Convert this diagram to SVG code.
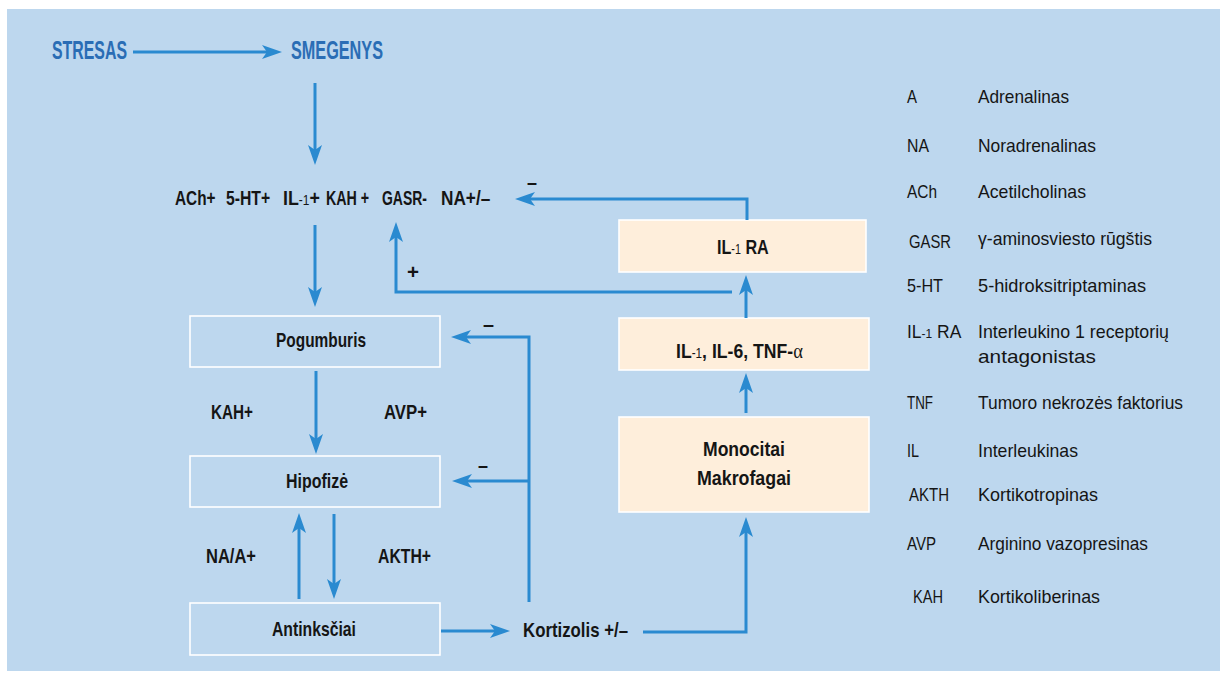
<svg xmlns="http://www.w3.org/2000/svg" width="1220" height="673" viewBox="0 0 1220 673">
<style>
.bg{fill:#BDD7EE}
.bbox{fill:#BDD7EE;stroke:#FFFFFF;stroke-width:1.6}
.obox{fill:#FEEEDB;stroke:#FFFFFF;stroke-width:1.6}
.t{font-family:"Liberation Sans",Arial,sans-serif;font-weight:bold;font-size:21px;fill:#151515}
.title{font-family:"Liberation Sans",Arial,sans-serif;font-weight:bold;font-size:26px;fill:#2A6DB5}
.lg{font-family:"Liberation Sans",Arial,sans-serif;font-size:19px;fill:#151515}
.sm{font-size:14px;font-weight:normal}
.al{font-family:"Liberation Serif",serif;font-weight:normal;font-size:22px}
.conn path{fill:none;stroke:#2A8AD0;stroke-width:3;marker-end:url(#ah)}
</style>
<defs>
<marker id="ah" viewBox="0 0 20 14" refX="10" refY="7" markerUnits="userSpaceOnUse" markerWidth="20" markerHeight="14" orient="auto">
<path d="M0,0 L20,7 L0,14 L5,7 z" fill="#2A8AD0"/>
</marker>
</defs>
<rect class="bg" x="7" y="9" width="1213" height="662"/>

<g id="stresas"><text class="title" x="52" y="59" textLength="75" lengthAdjust="spacingAndGlyphs">STRESAS</text></g>
<g id="smegenys"><text class="title" x="291" y="59" textLength="92" lengthAdjust="spacingAndGlyphs">SMEGENYS</text></g>

<g id="mediatoriai">
<text class="t" transform="translate(175,205) scale(0.73,1)">ACh+</text>
<text class="t" transform="translate(226,205) scale(0.75,1)">5-HT+</text>
<text class="t" transform="translate(283,205) scale(0.85,1)">IL<tspan class="sm">-1</tspan>+</text>
<text class="t" transform="translate(326,205) scale(0.68,1)">KAH +</text>
<text class="t" transform="translate(382,205) scale(0.665,1)">GASR-</text>
<text class="t" transform="translate(441,205) scale(0.82,1)">NA+/–</text>
</g>

<g id="pogumburis">
<rect class="bbox" x="190" y="316" width="250" height="51"/>
<text class="t" x="276" y="347" textLength="90" lengthAdjust="spacingAndGlyphs">Pogumburis</text>
</g>
<g id="hipofize">
<rect class="bbox" x="190" y="456" width="250" height="51"/>
<text class="t" x="286" y="488" textLength="62" lengthAdjust="spacingAndGlyphs">Hipofizė</text>
</g>
<g id="antinksciai">
<rect class="bbox" x="190" y="603" width="250" height="52"/>
<text class="t" x="272" y="636" textLength="84" lengthAdjust="spacingAndGlyphs">Antinksčiai</text>
</g>
<g id="kortizolis">
<text class="t" x="523" y="637" textLength="105" lengthAdjust="spacingAndGlyphs">Kortizolis +/–</text>
</g>

<g id="il1ra">
<rect class="obox" x="619" y="220" width="247" height="52"/>
<text class="t" transform="translate(717,254) scale(0.77,1)">IL<tspan class="sm">-1</tspan> RA</text>
</g>
<g id="citokinai">
<rect class="obox" x="619" y="318" width="250" height="52"/>
<text class="t" transform="translate(676,358) scale(0.84,1)">IL<tspan class="sm">-1</tspan>, IL-6, TNF-<tspan class="al">α</tspan></text>
</g>
<g id="monocitai">
<rect class="obox" x="619" y="417" width="250" height="95"/>
<text class="t" x="703" y="456" textLength="82" lengthAdjust="spacingAndGlyphs">Monocitai</text>
<text class="t" x="697" y="485" textLength="94" lengthAdjust="spacingAndGlyphs">Makrofagai</text>
</g>

<g id="zymes">
<text class="t" x="211" y="419" textLength="42" lengthAdjust="spacingAndGlyphs">KAH+</text>
<text class="t" x="384" y="419" textLength="43" lengthAdjust="spacingAndGlyphs">AVP+</text>
<text class="t" x="206" y="563" textLength="50" lengthAdjust="spacingAndGlyphs">NA/A+</text>
<text class="t" x="378" y="563" textLength="53" lengthAdjust="spacingAndGlyphs">AKTH+</text>
<text class="t" x="527" y="189" textLength="10" lengthAdjust="spacingAndGlyphs">–</text>
<text class="t" x="407" y="279" textLength="12" lengthAdjust="spacingAndGlyphs">+</text>
<text class="t" x="483" y="331" textLength="11" lengthAdjust="spacingAndGlyphs">–</text>
<text class="t" x="478" y="472" textLength="10" lengthAdjust="spacingAndGlyphs">–</text>
</g>

<g class="conn" id="connectors">
<path d="M133,52 H272"/>
<path d="M315,83 V155"/>
<path d="M315,225 V297"/>
<path d="M316,371 V444"/>
<path d="M299,599 V523"/>
<path d="M334,514 V589"/>
<path d="M441,631 H500"/>
<path d="M643,632 H746 V527"/>
<path d="M746,413 V383"/>
<path d="M746,318 V285"/>
<path d="M747,220 V199 H525"/>
<path d="M732,292 H396 V232"/>
<path d="M529,602 V337 H461"/>
<path d="M529,481 H462"/>
</g>

<g id="legenda">
<text class="lg" x="907" y="103" textLength="10" lengthAdjust="spacingAndGlyphs">A</text>
<text class="lg" x="978" y="103" textLength="91" lengthAdjust="spacingAndGlyphs">Adrenalinas</text>
<text class="lg" x="907" y="152" textLength="22" lengthAdjust="spacingAndGlyphs">NA</text>
<text class="lg" x="978" y="152" textLength="118" lengthAdjust="spacingAndGlyphs">Noradrenalinas</text>
<text class="lg" x="907" y="198" textLength="30" lengthAdjust="spacingAndGlyphs">ACh</text>
<text class="lg" x="978" y="198" textLength="108" lengthAdjust="spacingAndGlyphs">Acetilcholinas</text>
<text class="lg" x="909" y="248" font-size="17" textLength="42" lengthAdjust="spacingAndGlyphs">GASR</text>
<text class="lg" x="978" y="245" textLength="174" lengthAdjust="spacingAndGlyphs">γ-aminosviesto rūgštis</text>
<text class="lg" x="907" y="292" textLength="36" lengthAdjust="spacingAndGlyphs">5-HT</text>
<text class="lg" x="978" y="292" textLength="168" lengthAdjust="spacingAndGlyphs">5-hidroksitriptaminas</text>
<text class="lg" transform="translate(907,338) scale(0.92,1)">IL<tspan font-size="13">-1</tspan> RA</text>
<text class="lg" x="978" y="338" textLength="191" lengthAdjust="spacingAndGlyphs">Interleukino 1 receptorių</text>
<text class="lg" x="978" y="363" textLength="118" lengthAdjust="spacingAndGlyphs">antagonistas</text>
<text class="lg" x="907" y="409" textLength="26" lengthAdjust="spacingAndGlyphs">TNF</text>
<text class="lg" x="978" y="409" textLength="205" lengthAdjust="spacingAndGlyphs">Tumoro nekrozės faktorius</text>
<text class="lg" x="907" y="457" textLength="12" lengthAdjust="spacingAndGlyphs">IL</text>
<text class="lg" x="978" y="457" textLength="100" lengthAdjust="spacingAndGlyphs">Interleukinas</text>
<text class="lg" x="909" y="501" font-size="17" textLength="40" lengthAdjust="spacingAndGlyphs">AKTH</text>
<text class="lg" x="978" y="501" textLength="120" lengthAdjust="spacingAndGlyphs">Kortikotropinas</text>
<text class="lg" x="907" y="550" textLength="29" lengthAdjust="spacingAndGlyphs">AVP</text>
<text class="lg" x="978" y="550" textLength="170" lengthAdjust="spacingAndGlyphs">Arginino vazopresinas</text>
<text class="lg" x="913" y="603" font-size="17" textLength="30" lengthAdjust="spacingAndGlyphs">KAH</text>
<text class="lg" x="978" y="603" textLength="122" lengthAdjust="spacingAndGlyphs">Kortikoliberinas</text>
</g>
</svg>
